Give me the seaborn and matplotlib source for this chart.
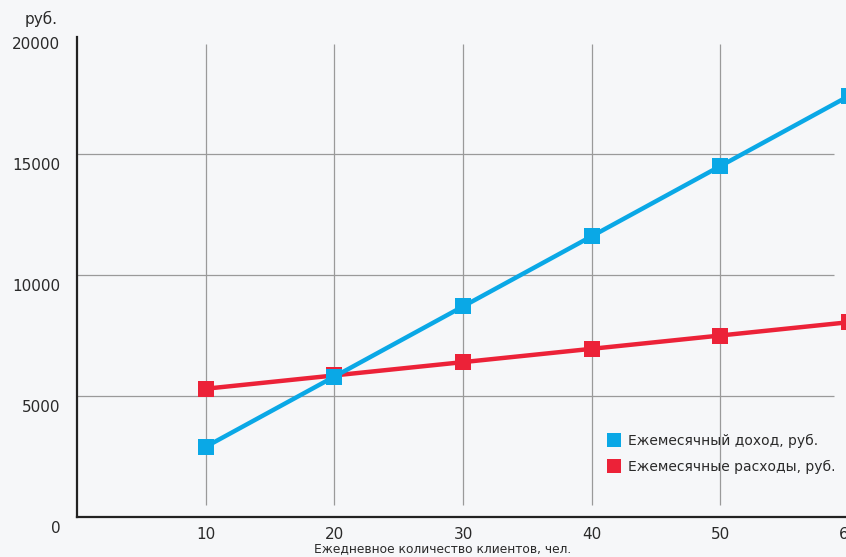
import numpy as np
import pandas as pd
import matplotlib
matplotlib.use("Agg")
import matplotlib.pyplot as plt
import matplotlib.transforms as mtransforms
from matplotlib.lines import Line2D
import seaborn as sns

# data
clients = [10, 20, 30, 40, 50, 60]
income = [2900, 5800, 8700, 11600, 14500, 17400]
expenses = [5300, 5850, 6400, 6950, 7500, 8050]
series_names = ["Ежемесячный доход, руб.", "Ежемесячные расходы, руб."]
y_ticks = [0, 5000, 10000, 15000, 20000]
x_ticks = [10, 20, 30, 40, 50, 60]

BLUE = "#0AA8E6"
RED = "#EC2238"
GRID = "#9a9a9a"
BG = "#f6f7f9"

df = pd.DataFrame({
    "clients": clients * 2,
    "value": income + expenses,
    "series": [series_names[0]] * len(clients) + [series_names[1]] * len(clients),
})
colors = {series_names[0]: BLUE, series_names[1]: RED}

sns.set_style("white")
plt.rcParams["font.family"] = ["DejaVu Sans"]

W, H = 846, 557
fig = plt.figure(figsize=(W / 100, H / 100), dpi=100, facecolor=BG)
# axes placed by pixel positions: x=0 at px 77, x=60 at px 849; y=0 at px 517, y=20000 at px 33
ax = fig.add_axes([77 / W, (H - 517) / H, (849 - 77) / W, (517 - 33) / H])
ax.set_facecolor(BG)

# partial grid lines like in the reference
ax.hlines(y_ticks[1:-1], 0, 58.8, color=GRID, lw=0.9, zorder=1)
ax.vlines(x_ticks[:-1], 480, 19550, color=GRID, lw=0.9, zorder=1)

# red drawn first so the blue line sits on top where they cross
sns.lineplot(data=df, x="clients", y="value", hue="series",
             palette=colors, hue_order=[series_names[1], series_names[0]],
             marker="s", markersize=11, markeredgewidth=0, linewidth=3.2,
             legend=False, ax=ax, zorder=3, clip_on=False)

ax.set_xlim(0, 60)
ax.set_ylim(0, 20000)
ax.set_xticks(x_ticks)
ax.set_yticks(y_ticks)
ax.set_xticklabels([str(v) for v in x_ticks])
ax.set_yticklabels([str(v) for v in y_ticks])
ax.tick_params(axis="both", length=0, labelsize=11, colors="#2a2a2a")
ax.tick_params(axis="x", pad=7)
ax.tick_params(axis="y", pad=12)

# y labels sit a bit below their grid lines
offset = mtransforms.ScaledTranslation(0, -10 / 100, fig.dpi_scale_trans)
for lbl in ax.get_yticklabels():
    lbl.set_transform(lbl.get_transform() + offset)

ax.set_xlabel("")
ax.set_ylabel("")
for side in ["top", "right"]:
    ax.spines[side].set_visible(False)
for side in ["left", "bottom"]:
    ax.spines[side].set_color("#222222")
    ax.spines[side].set_linewidth(1.6)
ax.spines["left"].set_bounds(0, 19830)

fig.text(58 / W, 1 - 19 / H, "руб.", ha="right", va="center", fontsize=11, color="#2a2a2a")
fig.text(443 / W, 1 - 549 / H, "Ежедневное количество клиентов, чел.",
         ha="center", va="center", fontsize=8.8, color="#2a2a2a")

handles = [Line2D([], [], linestyle="none", marker="s", markersize=10,
                  markeredgewidth=0, color=c) for c in (BLUE, RED)]
fig.legend(handles, series_names, loc="upper left",
           bbox_to_anchor=(608 / W, 1 - 434 / H), frameon=False, borderpad=0,
           borderaxespad=0, fontsize=10, handlelength=0.9, handletextpad=0.55,
           labelspacing=0.85, labelcolor="#2a2a2a")

fig.savefig("out.png", dpi=100, facecolor=BG)
